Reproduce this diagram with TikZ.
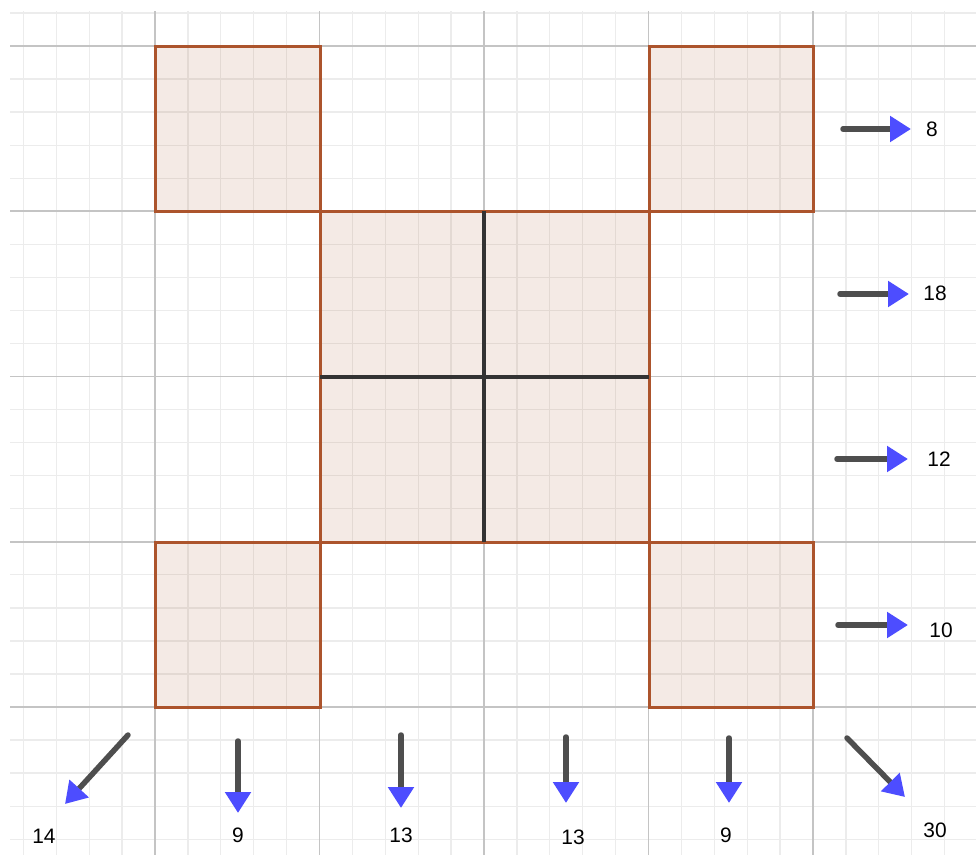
\documentclass[tikz,border=0pt]{standalone}
\usepackage{fontspec}
\newfontfamily\labfont{Liberation Sans}
\usetikzlibrary{arrows.meta}
\definecolor{minorgray}{RGB}{236,236,236}
\definecolor{majorgray}{RGB}{196,196,196}
\definecolor{sqbrown}{RGB}{172,84,44}
\definecolor{sqfill}{RGB}{153,51,0}
\definecolor{arrgray}{RGB}{78,78,78}
\definecolor{arrblue}{RGB}{77,77,255}
\tikzset{
  minorline/.style={draw=minorgray, line width=1.3bp},
  majorline/.style={draw=majorgray, line width=1.6bp},
  sqbox/.style={draw=sqbrown, line width=3bp, fill=sqfill, fill opacity=0.1, line join=miter},
  crossline/.style={draw=black!80, line width=3.2bp},
  vecarrow/.style={draw=arrgray, line width=5.5bp, line cap=round,
    -{Triangle[length=21bp,width=25bp,color=arrblue]}},
  lab/.style={font=\labfont\fontsize{21}{24}\selectfont, text=black, inner sep=0pt}
}
\begin{document}
\begin{tikzpicture}[x=1bp,y=-1bp]
\useasboundingbox (0,0) rectangle (976,855);
\fill[white] (0,0) rectangle (976,855);
% minor grid
\foreach \i in {-4,...,24} {
  \pgfmathsetmacro\xx{155+\i*32.9}
  \draw[minorline] (\xx,11) -- (\xx,855);
}
\foreach \j in {-4,...,21} {
  \pgfmathsetmacro\yy{707-\j*33.05}
  \draw[minorline] (10,\yy) -- (976,\yy);
}
% major grid
\foreach \k in {0,...,4} {
  \pgfmathsetmacro\xx{155+\k*164.5}
  \pgfmathsetmacro\yy{707-\k*165.25}
  \draw[majorline] (\xx,11) -- (\xx,855);
  \draw[majorline] (10,\yy) -- (976,\yy);
}
% squares
\filldraw[sqbox] (155,46) rectangle (320,211);
\filldraw[sqbox] (649,46) rectangle (813,211);
\filldraw[sqbox] (320,211) rectangle (649,542);
\filldraw[sqbox] (155,542) rectangle (320,707);
\filldraw[sqbox] (649,542) rectangle (813,707);
\coordinate (cT) at (484,211);
\coordinate (cB) at (484,542);
\coordinate (cL) at (320,377);
\coordinate (cR) at (649,377);
\draw[crossline] (cT) -- (cB);
\draw[crossline] (cL) -- (cR);
% right arrows
\coordinate (r1s) at (843,129); \coordinate (r1e) at (911,129);
\coordinate (r2s) at (840,294); \coordinate (r2e) at (909,294);
\coordinate (r3s) at (837,459); \coordinate (r3e) at (908,459);
\coordinate (r4s) at (838,625); \coordinate (r4e) at (908,625);
\draw[vecarrow] (r1s) -- (r1e);
\draw[vecarrow] (r2s) -- (r2e);
\draw[vecarrow] (r3s) -- (r3e);
\draw[vecarrow] (r4s) -- (r4e);
\node[lab] (l8) at (932,129) {8};
\node[lab] (l18) at (935,293) {18};
\node[lab] (l12) at (939,459) {12};
\node[lab] (l10) at (941,630) {10};
% bottom arrows
\coordinate (b1s) at (128,735); \coordinate (b1e) at (65,804);
\coordinate (b2s) at (238,741); \coordinate (b2e) at (238,813);
\coordinate (b3s) at (401,735); \coordinate (b3e) at (401,808);
\coordinate (b4s) at (566,737); \coordinate (b4e) at (566,803);
\coordinate (b5s) at (729,738); \coordinate (b5e) at (729,803);
\coordinate (b6s) at (847,738); \coordinate (b6e) at (905,797);
\draw[vecarrow] (b1s) -- (b1e);
\draw[vecarrow] (b2s) -- (b2e);
\draw[vecarrow] (b3s) -- (b3e);
\draw[vecarrow] (b4s) -- (b4e);
\draw[vecarrow] (b5s) -- (b5e);
\draw[vecarrow] (b6s) -- (b6e);
\node[lab] (l14) at (44,836) {14};
\node[lab] (l9a) at (238,835) {9};
\node[lab] (l13a) at (401,835) {13};
\node[lab] (l13b) at (573,837) {13};
\node[lab] (l9b) at (726,835) {9};
\node[lab] (l30) at (935,830) {30};
\end{tikzpicture}
\end{document}
